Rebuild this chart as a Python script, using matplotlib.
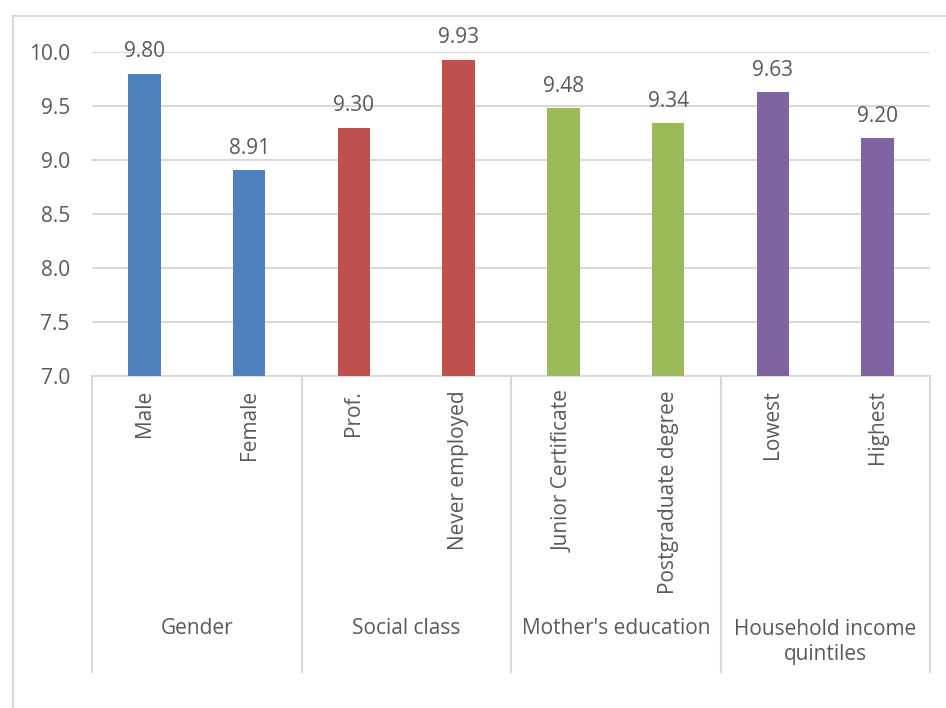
import numpy as np
import matplotlib.pyplot as plt
from matplotlib.patches import Rectangle
import matplotlib.transforms as mtransforms

plt.rcParams['font.family'] = ['Open Sans', 'DejaVu Sans']

groups = ["Gender", "Social class", "Mother's education", "Household income\nquintiles"]
labels = ["Male", "Female", "Prof.", "Never employed",
          "Junior Certificate", "Postgraduate degree", "Lowest", "Highest"]
values = [9.80, 8.91, 9.30, 9.93, 9.48, 9.34, 9.63, 9.20]
group_colors = ["#4F81BD", "#C0504D", "#9BBB59", "#8064A2"]

text_color = "#595959"
line_color = "#D9D9D9"
fs = 15

fig = plt.figure(figsize=(9.46, 7.08), dpi=100)
W, H = 946, 708
# outer chart border (cropped on right and bottom)
fig.patches.append(Rectangle((13 / W, -0.1), 1.2, 1 - 16 / H + 0.1,
                             transform=fig.transFigure, fill=False,
                             edgecolor=line_color, linewidth=1.5))

ax = fig.add_axes([92 / W, 1 - 376 / H, (930 - 92) / W, (376 - 52) / H])
x = np.arange(len(labels))
colors = [group_colors[i // 2] for i in range(len(labels))]
ax.bar(x, [v - 7 for v in values], bottom=7, width=0.31, color=colors, zorder=3)

for xi, v in zip(x, values):
    ax.annotate(f"{v:.2f}", (xi, v), xytext=(0, 8), textcoords="offset points",
                ha="center", va="bottom", fontsize=fs, color=text_color)

ax.set_xlim(-0.5, len(labels) - 0.5)
ax.set_ylim(7, 10)
ax.set_yticks(np.arange(7, 10.01, 0.5))
ax.set_yticklabels([f"{t:.1f}" for t in np.arange(7, 10.01, 0.5)])
ax.tick_params(axis="y", length=0, labelsize=fs, labelcolor=text_color, pad=16)
ax.grid(axis="y", color=line_color, linewidth=1.5, zorder=0)
ax.set_axisbelow(True)
for s in ["top", "right", "left"]:
    ax.spines[s].set_visible(False)
ax.spines["bottom"].set_color(line_color)
ax.spines["bottom"].set_linewidth(1.5)
ax.set_xticks([])

trans = mtransforms.blended_transform_factory(ax.transData, ax.transAxes)
lab_top = -(390 - 376) / 324
line_bot = -(672 - 376) / 324

for xi, lab in zip(x, labels):
    ax.text(xi, lab_top, lab, rotation=90, ha="center", va="top",
            fontsize=fs, color=text_color, transform=trans)

for sep in np.arange(-0.5, len(labels), 2):
    ax.plot([sep, sep], [0, line_bot], color=line_color, linewidth=1.5,
            transform=trans, clip_on=False)

for gi, g in enumerate(groups):
    yc = 642 if "\n" in g else 628
    ax.text(gi * 2 + 0.5, -(yc - 376) / 324, g, ha="center", va="center",
            fontsize=fs, color=text_color, transform=trans, linespacing=1.2)

fig.savefig("out.png", dpi=100)
